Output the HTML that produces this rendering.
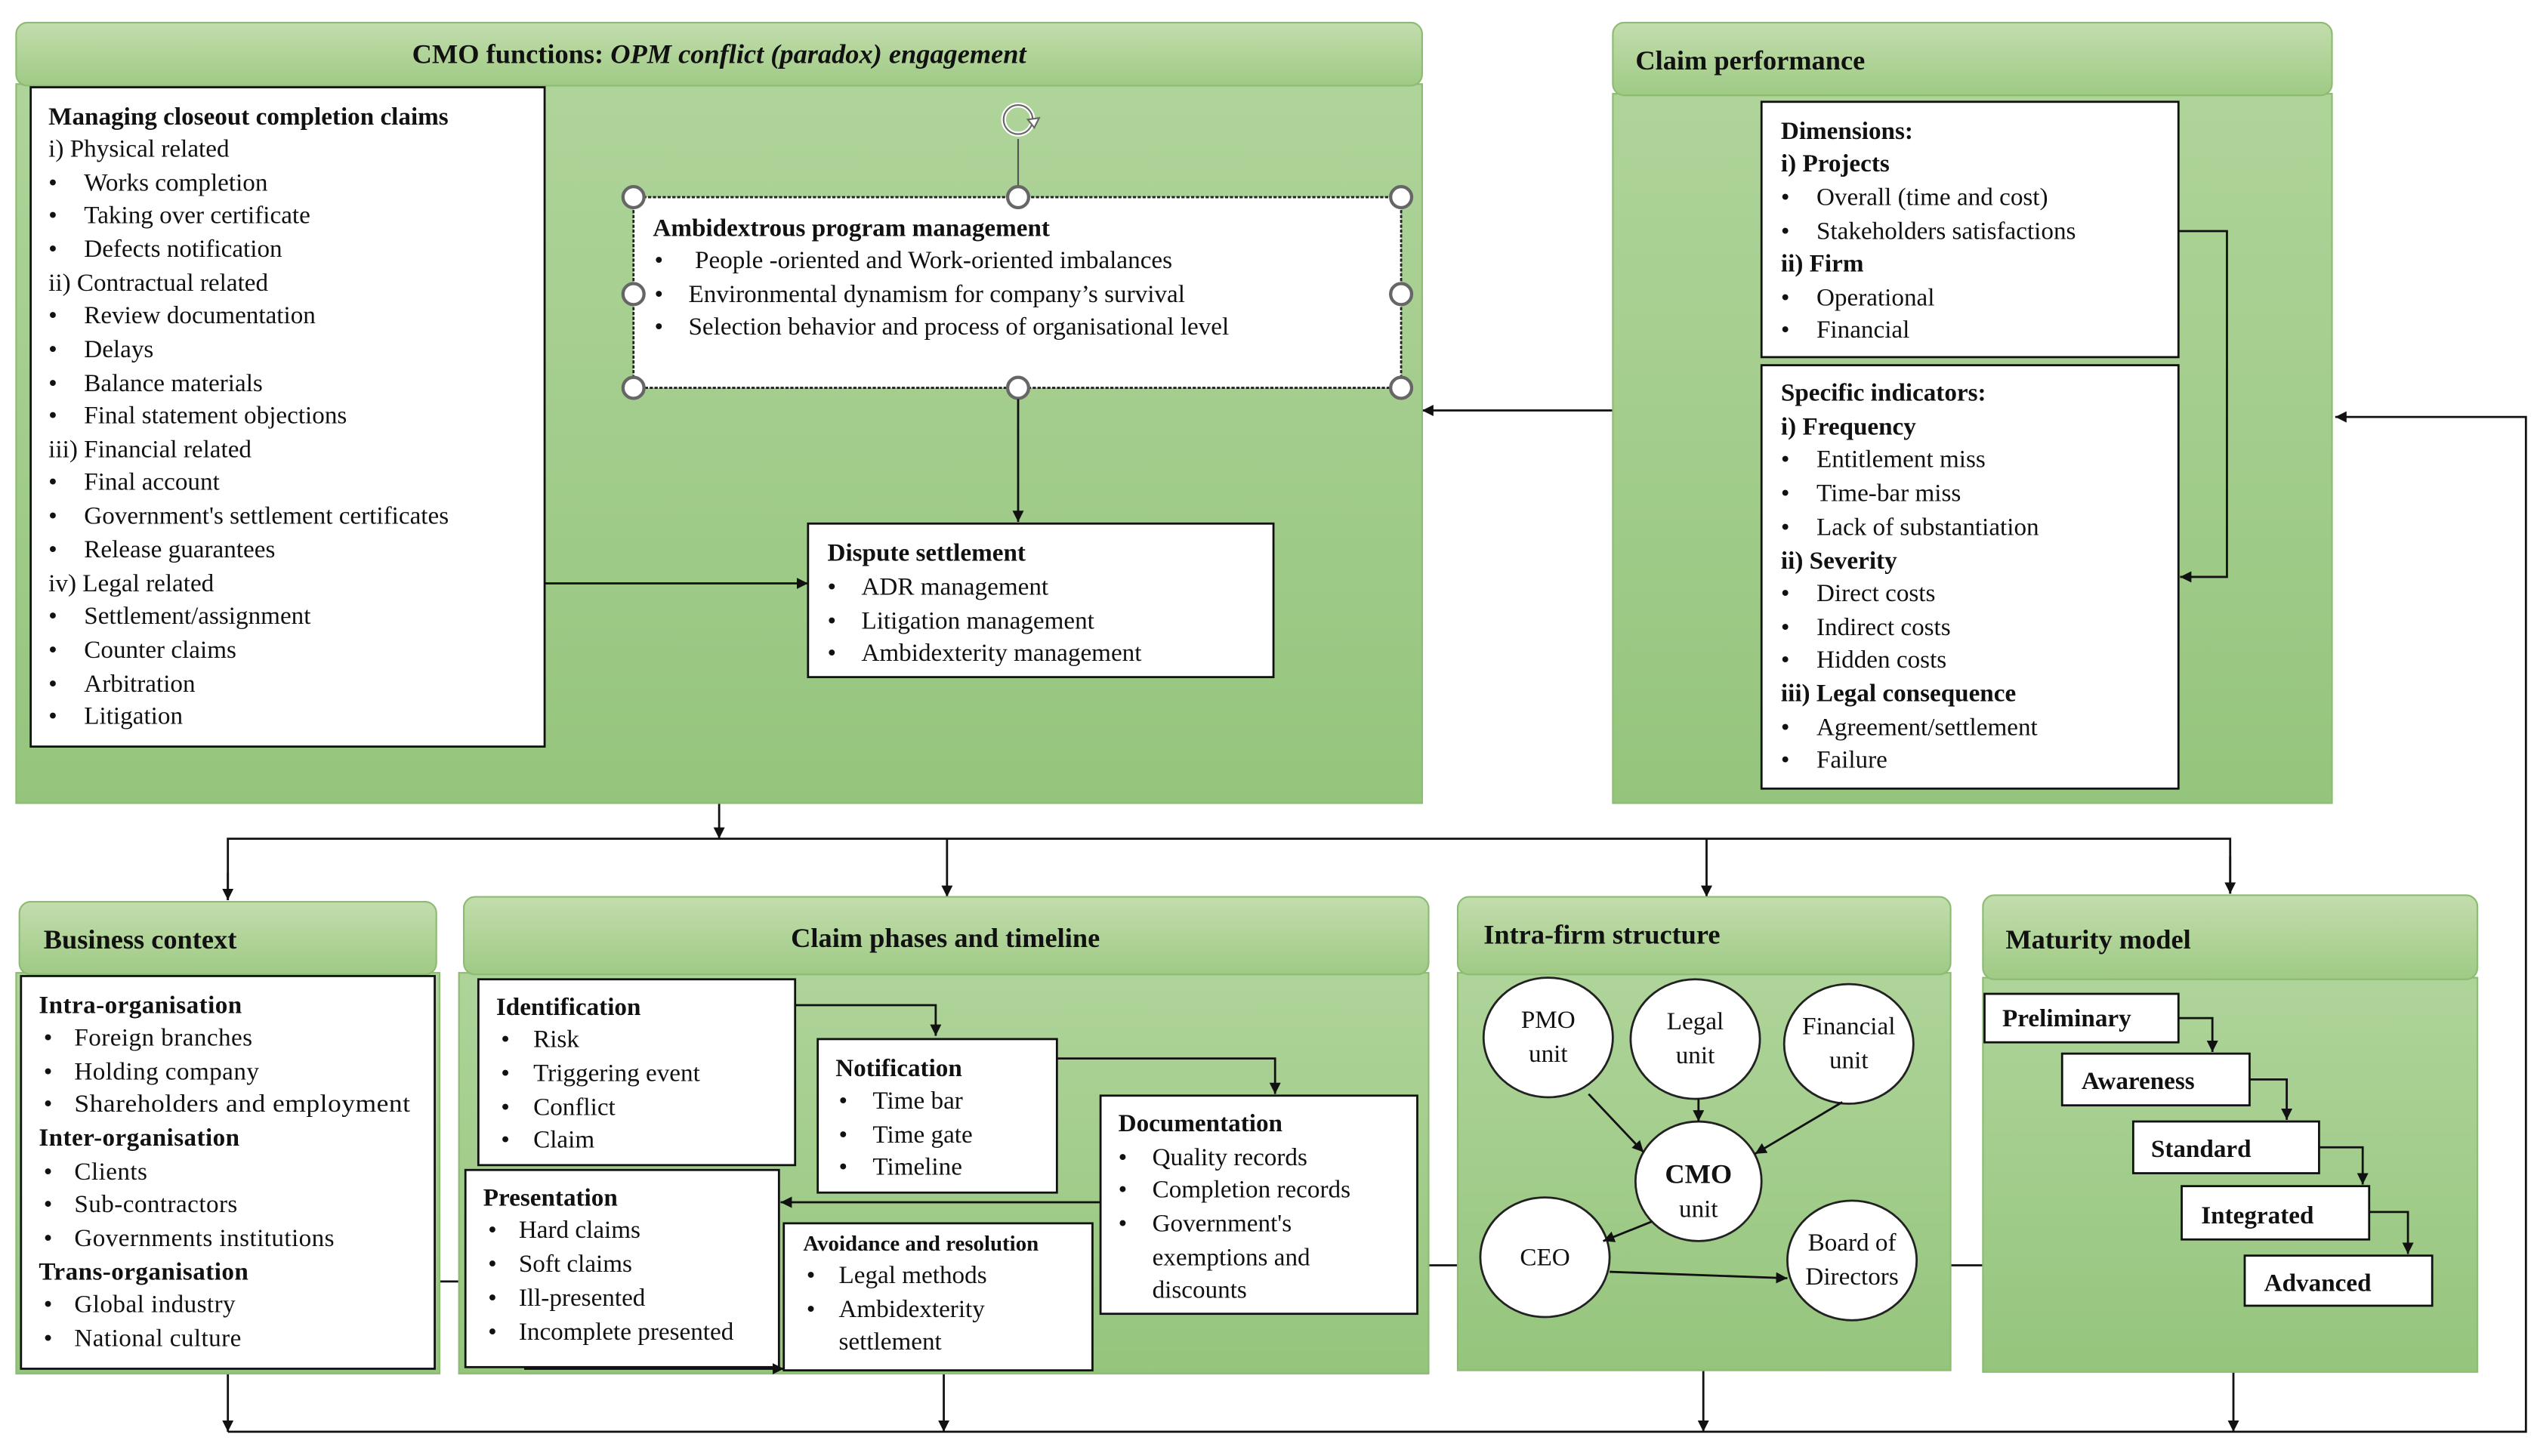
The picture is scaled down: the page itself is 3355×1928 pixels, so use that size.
<!DOCTYPE html>
<html><head><meta charset="utf-8"><style>
html,body{margin:0;padding:0;background:#fff;}
svg{display:block;}
text{font-family:"Liberation Serif",serif;font-size:15.5px;fill:#111;}
.b{font-weight:bold;}
.t{font-weight:bold;font-size:17px;}
.w{font-size:15.5px;letter-spacing:0.2px;}
</style></head><body>
<svg width="3355" height="1928" viewBox="0 0 1568 901" preserveAspectRatio="none" xmlns="http://www.w3.org/2000/svg">
<defs>
<linearGradient id="hd" x1="0" y1="0" x2="0" y2="1"><stop offset="0" stop-color="#c3ddad"/><stop offset="1" stop-color="#9fca85"/></linearGradient>
<linearGradient id="bd" x1="0" y1="0" x2="0" y2="1"><stop offset="0" stop-color="#afd49a"/><stop offset="1" stop-color="#95c57d"/></linearGradient>
<marker id="ar" viewBox="0 0 10 10" refX="10" refY="5" markerWidth="7" markerHeight="7" orient="auto" markerUnits="userSpaceOnUse"><path d="M0,0 L10,5 L0,10 z" fill="#111"/></marker>
</defs>
<g stroke="#111" stroke-width="1.3" fill="none">
<line x1="445" y1="497" x2="445" y2="519" marker-end="url(#ar)"/>
<polyline points="141,557 141,519 1380,519 1380,553"/>
<line x1="141" y1="540" x2="141" y2="557" marker-end="url(#ar)"/>
<line x1="586" y1="519" x2="586" y2="555" marker-end="url(#ar)"/>
<line x1="1056" y1="519" x2="1056" y2="555" marker-end="url(#ar)"/>
<line x1="1380" y1="530" x2="1380" y2="553" marker-end="url(#ar)"/>
<polyline points="141,886 1563,886 1563,258 1445,258" marker-end="url(#ar)"/>
<line x1="141" y1="850" x2="141" y2="886" marker-end="url(#ar)"/>
<line x1="584" y1="850" x2="584" y2="886" marker-end="url(#ar)"/>
<line x1="1054" y1="848" x2="1054" y2="886" marker-end="url(#ar)"/>
<line x1="1382" y1="849" x2="1382" y2="886" marker-end="url(#ar)"/>
<line x1="998" y1="254" x2="880" y2="254" marker-end="url(#ar)"/>
<line x1="272" y1="793" x2="284" y2="793"/>
<line x1="884" y1="783" x2="902" y2="783"/>
<line x1="1207" y1="783" x2="1227" y2="783"/>
</g>

<rect x="10" y="52" width="870" height="445" fill="url(#bd)" stroke="#8cbb72"/>
<rect x="10" y="14" width="870" height="39" rx="7" fill="url(#hd)" stroke="#8cbb72"/>
<text x="445" y="39" text-anchor="middle" class="t">CMO functions: <tspan font-style="italic">OPM conflict (paradox) engagement</tspan></text>
<rect x="19" y="54" width="318" height="408" fill="#fff" stroke="#111" stroke-width="1.3"/>
<g>
<text x="30" y="77" class="b">Managing closeout completion claims</text>
<text x="30" y="97">i) Physical related</text>
<text x="30" y="118">•</text><text x="52" y="118">Works completion</text>
<text x="30" y="138">•</text><text x="52" y="138">Taking over certificate</text>
<text x="30" y="159">•</text><text x="52" y="159">Defects notification</text>
<text x="30" y="180">ii) Contractual related</text>
<text x="30" y="200">•</text><text x="52" y="200">Review documentation</text>
<text x="30" y="221">•</text><text x="52" y="221">Delays</text>
<text x="30" y="242">•</text><text x="52" y="242">Balance materials</text>
<text x="30" y="262">•</text><text x="52" y="262">Final statement objections</text>
<text x="30" y="283">iii) Financial related</text>
<text x="30" y="303">•</text><text x="52" y="303">Final account</text>
<text x="30" y="324">•</text><text x="52" y="324">Government's settlement certificates</text>
<text x="30" y="345">•</text><text x="52" y="345">Release guarantees</text>
<text x="30" y="366">iv) Legal related</text>
<text x="30" y="386">•</text><text x="52" y="386">Settlement/assignment</text>
<text x="30" y="407">•</text><text x="52" y="407">Counter claims</text>
<text x="30" y="428">•</text><text x="52" y="428">Arbitration</text>
<text x="30" y="448">•</text><text x="52" y="448">Litigation</text>
</g>
<line x1="337" y1="361" x2="500" y2="361" stroke="#111" stroke-width="1.3" marker-end="url(#ar)"/>
<line x1="630" y1="86" x2="630" y2="122" stroke="#555" stroke-width="1"/>
<circle cx="630" cy="74" r="9" fill="none" stroke="#fff" stroke-width="3"/>
<circle cx="630" cy="74" r="9" fill="none" stroke="#666" stroke-width="1"/>
<path d="M636,74 l7,-1 -3,6z" fill="#fff" stroke="#666" stroke-width="1"/>
<rect x="392" y="122" width="475" height="118" fill="#fff" stroke="#222" stroke-width="1.3" stroke-dasharray="2,1"/>
<g fill="#fff" stroke="#666" stroke-width="2">
<circle cx="392" cy="122" r="6.5"/><circle cx="630" cy="122" r="6.5"/><circle cx="867" cy="122" r="6.5"/>
<circle cx="392" cy="182" r="6.5"/><circle cx="867" cy="182" r="6.5"/>
<circle cx="392" cy="240" r="6.5"/><circle cx="630" cy="240" r="6.5"/><circle cx="867" cy="240" r="6.5"/>
</g>
<text x="404" y="146" class="b">Ambidextrous program management</text>
<text x="405" y="166">•</text><text x="430" y="166">People -oriented and Work-oriented imbalances</text>
<text x="405" y="187">•</text><text x="426" y="187">Environmental dynamism for company’s survival</text>
<text x="405" y="207">•</text><text x="426" y="207">Selection behavior and process of organisational level</text>
<line x1="630" y1="247" x2="630" y2="323" stroke="#111" stroke-width="1.3" marker-end="url(#ar)"/>
<rect x="500" y="324" width="288" height="95" fill="#fff" stroke="#111" stroke-width="1.3"/>
<text x="512" y="347" class="b">Dispute settlement</text>
<text x="512" y="368">•</text><text x="533" y="368">ADR management</text>
<text x="512" y="389">•</text><text x="533" y="389">Litigation management</text>
<text x="512" y="409">•</text><text x="533" y="409">Ambidexterity management</text>

<rect x="998" y="58" width="445" height="439" fill="url(#bd)" stroke="#8cbb72"/>
<rect x="998" y="14" width="445" height="45" rx="7" fill="url(#hd)" stroke="#8cbb72"/>
<text x="1012" y="43" class="t">Claim performance</text>
<rect x="1090" y="63" width="258" height="158" fill="#fff" stroke="#111" stroke-width="1.3"/>
<text x="1102" y="86" class="b">Dimensions:</text>
<text x="1102" y="106" class="b">i) Projects</text>
<text x="1102" y="127">•</text><text x="1124" y="127">Overall (time and cost)</text>
<text x="1102" y="148">•</text><text x="1124" y="148">Stakeholders satisfactions</text>
<text x="1102" y="168" class="b">ii) Firm</text>
<text x="1102" y="189">•</text><text x="1124" y="189">Operational</text>
<text x="1102" y="209">•</text><text x="1124" y="209">Financial</text>
<rect x="1090" y="226" width="258" height="262" fill="#fff" stroke="#111" stroke-width="1.3"/>
<text x="1102" y="248" class="b">Specific indicators:</text>
<text x="1102" y="269" class="b">i) Frequency</text>
<text x="1102" y="289">•</text><text x="1124" y="289">Entitlement miss</text>
<text x="1102" y="310">•</text><text x="1124" y="310">Time-bar miss</text>
<text x="1102" y="331">•</text><text x="1124" y="331">Lack of substantiation</text>
<text x="1102" y="352" class="b">ii) Severity</text>
<text x="1102" y="372">•</text><text x="1124" y="372">Direct costs</text>
<text x="1102" y="393">•</text><text x="1124" y="393">Indirect costs</text>
<text x="1102" y="413">•</text><text x="1124" y="413">Hidden costs</text>
<text x="1102" y="434" class="b">iii) Legal consequence</text>
<text x="1102" y="455">•</text><text x="1124" y="455">Agreement/settlement</text>
<text x="1102" y="475">•</text><text x="1124" y="475">Failure</text>
<polyline points="1348,143 1378,143 1378,357 1349,357" fill="none" stroke="#111" stroke-width="1.3" marker-end="url(#ar)"/>

<rect x="10" y="602" width="262" height="248" fill="url(#bd)" stroke="#8cbb72"/>
<rect x="12" y="558" width="258" height="45" rx="7" fill="url(#hd)" stroke="#8cbb72"/>
<text x="27" y="587" class="t">Business context</text>
<rect x="13" y="604" width="256" height="243" fill="#fff" stroke="#111" stroke-width="1.3"/>
<g>
<text x="24" y="627" class="b w">Intra-organisation</text>
<text x="27" y="647">•</text><text x="46" y="647" class="w">Foreign branches</text>
<text x="27" y="668">•</text><text x="46" y="668" class="w">Holding company</text>
<text x="27" y="688">•</text><text x="46" y="688" class="w" textLength="208" lengthAdjust="spacingAndGlyphs">Shareholders and employment</text>
<text x="24" y="709" class="b w">Inter-organisation</text>
<text x="27" y="730">•</text><text x="46" y="730" class="w">Clients</text>
<text x="27" y="750">•</text><text x="46" y="750" class="w">Sub-contractors</text>
<text x="27" y="771">•</text><text x="46" y="771" class="w">Governments institutions</text>
<text x="24" y="792" class="b w">Trans-organisation</text>
<text x="27" y="812">•</text><text x="46" y="812" class="w">Global industry</text>
<text x="27" y="833">•</text><text x="46" y="833" class="w">National culture</text>
</g>

<rect x="284" y="602" width="600" height="248" fill="url(#bd)" stroke="#8cbb72"/>
<rect x="287" y="555" width="597" height="48" rx="7" fill="url(#hd)" stroke="#8cbb72"/>
<text x="585" y="586" text-anchor="middle" class="t">Claim phases and timeline</text>
<polyline points="492,622 579,622 579,641" fill="none" stroke="#111" stroke-width="1.3" marker-end="url(#ar)"/>
<polyline points="654,655 789,655 789,677" fill="none" stroke="#111" stroke-width="1.3" marker-end="url(#ar)"/>
<rect x="296" y="606" width="196" height="115" fill="#fff" stroke="#111" stroke-width="1.3"/>
<text x="307" y="628" class="b">Identification</text>
<text x="310" y="648">•</text><text x="330" y="648">Risk</text>
<text x="310" y="669">•</text><text x="330" y="669">Triggering event</text>
<text x="310" y="690">•</text><text x="330" y="690">Conflict</text>
<text x="310" y="710">•</text><text x="330" y="710">Claim</text>
<rect x="506" y="643" width="148" height="95" fill="#fff" stroke="#111" stroke-width="1.3"/>
<text x="517" y="666" class="b">Notification</text>
<text x="519" y="686">•</text><text x="540" y="686">Time bar</text>
<text x="519" y="707">•</text><text x="540" y="707">Time gate</text>
<text x="519" y="727">•</text><text x="540" y="727">Timeline</text>
<rect x="681" y="678" width="196" height="135" fill="#fff" stroke="#111" stroke-width="1.3"/>
<text x="692" y="700" class="b">Documentation</text>
<text x="692" y="721">•</text><text x="713" y="721">Quality records</text>
<text x="692" y="741">•</text><text x="713" y="741">Completion records</text>
<text x="692" y="762">•</text><text x="713" y="762">Government's</text>
<text x="713" y="783">exemptions and</text>
<text x="713" y="803">discounts</text>
<line x1="681" y1="744" x2="483" y2="744" stroke="#111" stroke-width="1.3" marker-end="url(#ar)"/>
<rect x="288" y="724" width="194" height="122" fill="#fff" stroke="#111" stroke-width="1.3"/>
<text x="299" y="746" class="b">Presentation</text>
<text x="302" y="766">•</text><text x="321" y="766">Hard claims</text>
<text x="302" y="787">•</text><text x="321" y="787">Soft claims</text>
<text x="302" y="808">•</text><text x="321" y="808">Ill-presented</text>
<text x="302" y="829">•</text><text x="321" y="829">Incomplete presented</text>
<rect x="485" y="757" width="191" height="91" fill="#fff" stroke="#111" stroke-width="1.3"/>
<polyline points="325,846 325,847 485,847" fill="none" stroke="#111" stroke-width="1.3" marker-end="url(#ar)"/>
<text x="497" y="774" class="b" style="font-size:13.5px">Avoidance and resolution</text>
<text x="499" y="794">•</text><text x="519" y="794">Legal methods</text>
<text x="499" y="815">•</text><text x="519" y="815">Ambidexterity</text>
<text x="519" y="835">settlement</text>

<rect x="902" y="602" width="305" height="246" fill="url(#bd)" stroke="#8cbb72"/>
<rect x="902" y="555" width="305" height="48" rx="7" fill="url(#hd)" stroke="#8cbb72"/>
<text x="918" y="584" class="t">Intra-firm structure</text>
<g fill="#fff" stroke="#222" stroke-width="1.3">
<ellipse cx="958" cy="642" rx="40" ry="37"/>
<ellipse cx="1049" cy="643" rx="40" ry="37"/>
<ellipse cx="1144" cy="646" rx="40" ry="37"/>
<ellipse cx="1051" cy="731" rx="39" ry="37"/>
<ellipse cx="956" cy="778" rx="40" ry="37"/>
<ellipse cx="1146" cy="780" rx="40" ry="37"/>
</g>
<g stroke="#111" stroke-width="1.3" fill="none">
<line x1="983" y1="677" x2="1017" y2="713" marker-end="url(#ar)"/>
<line x1="1051" y1="680" x2="1051" y2="694" marker-end="url(#ar)"/>
<line x1="1140" y1="682" x2="1086" y2="714" marker-end="url(#ar)"/>
<line x1="1022" y1="756" x2="992" y2="768" marker-end="url(#ar)"/>
<line x1="996" y1="787" x2="1106" y2="791" marker-end="url(#ar)"/>
</g>
<g text-anchor="middle">
<text x="958" y="636">PMO</text><text x="958" y="657">unit</text>
<text x="1049" y="637">Legal</text><text x="1049" y="658">unit</text>
<text x="1144" y="640">Financial</text><text x="1144" y="661">unit</text>
<text x="1051" y="732" class="b" style="font-size:17px">CMO</text><text x="1051" y="753">unit</text>
<text x="956" y="783">CEO</text>
<text x="1146" y="774">Board of</text><text x="1146" y="795">Directors</text>
</g>

<rect x="1227" y="605" width="306" height="244" fill="url(#bd)" stroke="#8cbb72"/>
<rect x="1227" y="554" width="306" height="52" rx="7" fill="url(#hd)" stroke="#8cbb72"/>
<text x="1241" y="587" class="t">Maturity model</text>
<g stroke="#111" stroke-width="1.3" fill="none">
<polyline points="1348,630 1369,630 1369,651" marker-end="url(#ar)"/>
<polyline points="1392,668 1415,668 1415,693" marker-end="url(#ar)"/>
<polyline points="1435,710 1462,710 1462,733" marker-end="url(#ar)"/>
<polyline points="1466,750 1490,750 1490,776" marker-end="url(#ar)"/>
</g>
<g fill="#fff" stroke="#111" stroke-width="1.3">
<rect x="1228" y="615" width="120" height="30"/>
<rect x="1276" y="652" width="116" height="32"/>
<rect x="1320" y="694" width="115" height="32"/>
<rect x="1350" y="734" width="116" height="33"/>
<rect x="1389" y="777" width="116" height="31"/>
</g>
<text x="1239" y="635" class="b">Preliminary</text>
<text x="1288" y="674" class="b">Awareness</text>
<text x="1331" y="716" class="b">Standard</text>
<text x="1362" y="757" class="b">Integrated</text>
<text x="1401" y="799" class="b">Advanced</text>
</svg>
</body></html>
